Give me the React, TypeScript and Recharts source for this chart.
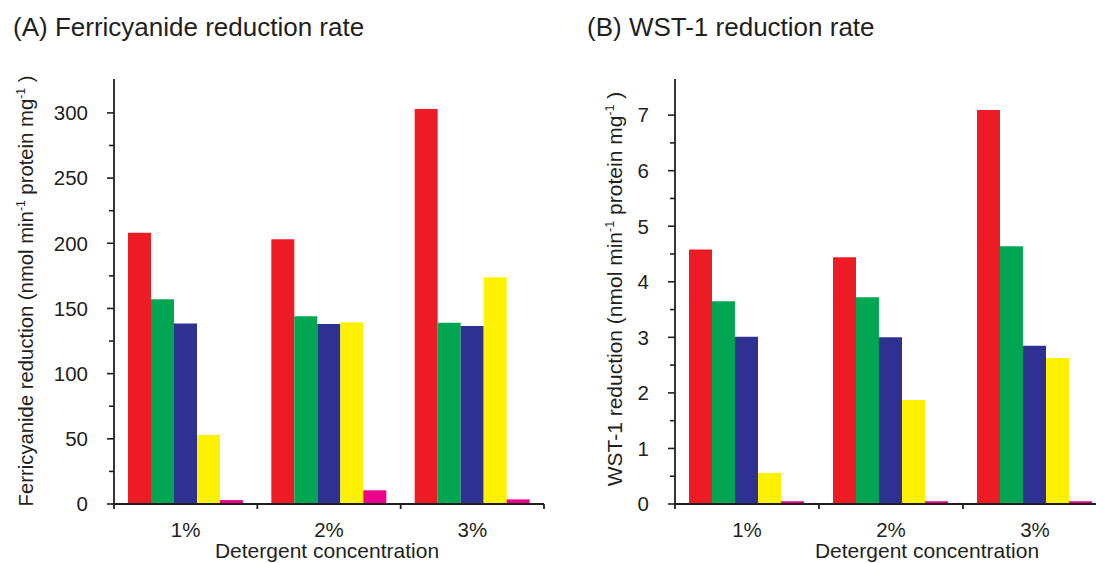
import React from 'react';
import { BarChart, Bar, XAxis, YAxis } from 'recharts';

const categories = ['1%', '2%', '3%'];
const seriesKeys = ['s1', 's2', 's3', 's4', 's5'];
const seriesColors = ['#ED1C24', '#00A651', '#2E3192', '#FFF200', '#EC008C'];

const ferriS1 = [208, 203, 303];
const ferriS2 = [157, 144, 139];
const ferriS3 = [138.5, 138, 136.5];
const ferriS4 = [53, 139.5, 174];
const ferriS5 = [3, 10.5, 3.5];

const wstS1 = [4.58, 4.44, 7.09];
const wstS2 = [3.65, 3.72, 4.64];
const wstS3 = [3.01, 3.0, 2.85];
const wstS4 = [0.56, 1.87, 2.63];
const wstS5 = [0.05, 0.05, 0.05];

const ferriMajorTicks = [0, 50, 100, 150, 200, 250, 300];
const ferriMinorTicks = [25, 75, 125, 175, 225, 275];
const wstMajorTicks = [0, 1, 2, 3, 4, 5, 6, 7];
const wstMinorTicks = [0.5, 1.5, 2.5, 3.5, 4.5, 5.5, 6.5];
const ferriDomainMax = 326;
const wstDomainMax = 7.65;

const titleA = '(A) Ferricyanide reduction rate';
const titleB = '(B) WST-1 reduction rate';
const yLabelA = 'Ferricyanide reduction';
const yLabelB = 'WST-1 reduction';
const xLabel = 'Detergent concentration';

const INK = '#231F20';
const FONT = '"Liberation Sans", Arial, Helvetica, sans-serif';
const TICK_FS = 20.5;
const LABEL_FS = 21;

const build = (a: number[], b: number[], c: number[], d: number[], e: number[]) =>
  categories.map((cat, i) => ({ cat, s1: a[i], s2: b[i], s3: c[i], s4: d[i], s5: e[i] }));

const ferriData = build(ferriS1, ferriS2, ferriS3, ferriS4, ferriS5);
const wstData = build(wstS1, wstS2, wstS3, wstS4, wstS5);

const YTick = (props: any) => {
  const { x, y, payload, majors } = props;
  const v = payload.value;
  const isMajor = majors.some((m: number) => Math.abs(m - v) < 1e-9);
  return (
    <g>
      <line x1={x - (isMajor ? 7 : 5)} x2={x} y1={y} y2={y} stroke={INK} strokeWidth={1.6} />
      {isMajor && (
        <text x={x - 26} y={y} dy="0.36em" textAnchor="end" fontSize={TICK_FS} fill={INK} fontFamily={FONT}>
          {v}
        </text>
      )}
    </g>
  );
};

const XTick = (props: any) => {
  const { x, y, payload, index, band, count } = props;
  return (
    <g>
      <line x1={x - band / 2} x2={x - band / 2} y1={y} y2={y + 5} stroke={INK} strokeWidth={1.8} />
      {index === count - 1 && (
        <line x1={x + band / 2} x2={x + band / 2} y1={y} y2={y + 5} stroke={INK} strokeWidth={1.8} />
      )}
      <text x={x} y={y + 33} textAnchor="middle" fontSize={TICK_FS} fill={INK} fontFamily={FONT}>
        {payload.value}
      </text>
    </g>
  );
};

type PanelProps = {
  data: any[];
  majors: number[];
  minors: number[];
  domainMax: number;
  left: number;
  marginLeft: number;
  marginRight: number;
};

const W = 560;
const H = 563;
const Y_AXIS_W = 60;

const Panel = ({ data, majors, minors, domainMax, left, marginLeft, marginRight }: PanelProps) => {
  const plotW = W - marginLeft - Y_AXIS_W - marginRight;
  const band = plotW / categories.length;
  const ticks = [...majors, ...minors].sort((a, b) => a - b);
  return (
    <div style={{ position: 'absolute', left, top: 0 }}>
      <BarChart
        width={W}
        height={H}
        data={data}
        margin={{ top: 79, right: marginRight, bottom: 29, left: marginLeft }}
        barCategoryGap={14}
        barGap={0}
      >
        <XAxis
          dataKey="cat"
          height={30}
          interval={0}
          tickSize={0}
          tickMargin={0}
          tickLine={false}
          axisLine={{ stroke: INK, strokeWidth: 1.8 }}
          tick={(p: any) => <XTick {...p} band={band} count={categories.length} />}
        />
        <YAxis
          type="number"
          width={Y_AXIS_W}
          domain={[0, domainMax]}
          ticks={ticks}
          interval={0}
          allowDataOverflow
          tickSize={0}
          tickMargin={0}
          tickLine={false}
          axisLine={{ stroke: INK, strokeWidth: 1.8 }}
          tick={(p: any) => <YTick {...p} majors={majors} />}
        />
        {seriesKeys.map((k, i) => (
          <Bar key={k} dataKey={k} fill={seriesColors[i]} isAnimationActive={false} />
        ))}
      </BarChart>
    </div>
  );
};

const YLabel = ({ x, y, text, fs }: { x: number; y: number; text: string; fs: number }) => (
  <text
    x={x}
    y={y}
    transform={`rotate(-90, ${x}, ${y})`}
    textAnchor="middle"
    fontSize={fs}
    fill={INK}
    fontFamily={FONT}
  >
    {text + ' (nmol min'}
    <tspan fontSize={fs * 0.6} dy={-8}>-1</tspan>
    <tspan dy={8}> protein mg</tspan>
    <tspan fontSize={fs * 0.6} dy={-8}>-1</tspan>
    <tspan dy={8}> )</tspan>
  </text>
);

export default function App() {
  return (
    <div
      style={{
        position: 'fixed',
        left: 0,
        top: 0,
        width: 1096,
        height: 563,
        overflow: 'hidden',
        background: '#fff',
        fontFamily: FONT,
      }}
    >
      <Panel
        data={ferriData}
        majors={ferriMajorTicks}
        minors={ferriMinorTicks}
        domainMax={ferriDomainMax}
        left={0}
        marginLeft={54}
        marginRight={16}
      />
      <Panel
        data={wstData}
        majors={wstMajorTicks}
        minors={wstMinorTicks}
        domainMax={wstDomainMax}
        left={560}
        marginLeft={55}
        marginRight={13}
      />
      <svg
        width={1096}
        height={563}
        style={{ position: 'absolute', left: 0, top: 0, pointerEvents: 'none' }}
      >
        <text x={13} y={36} fontSize={26} fill={INK} fontFamily={FONT}>{titleA}</text>
        <text x={587} y={36} fontSize={26} fill={INK} fontFamily={FONT}>{titleB}</text>
        <YLabel x={33} y={291} text={yLabelA} fs={20.3} />
        <YLabel x={622} y={289} text={yLabelB} fs={21} />
        <text x={327} y={558} textAnchor="middle" fontSize={LABEL_FS} fill={INK} fontFamily={FONT}>{xLabel}</text>
        <text x={927} y={558} textAnchor="middle" fontSize={LABEL_FS} fill={INK} fontFamily={FONT}>{xLabel}</text>
      </svg>
    </div>
  );
}
